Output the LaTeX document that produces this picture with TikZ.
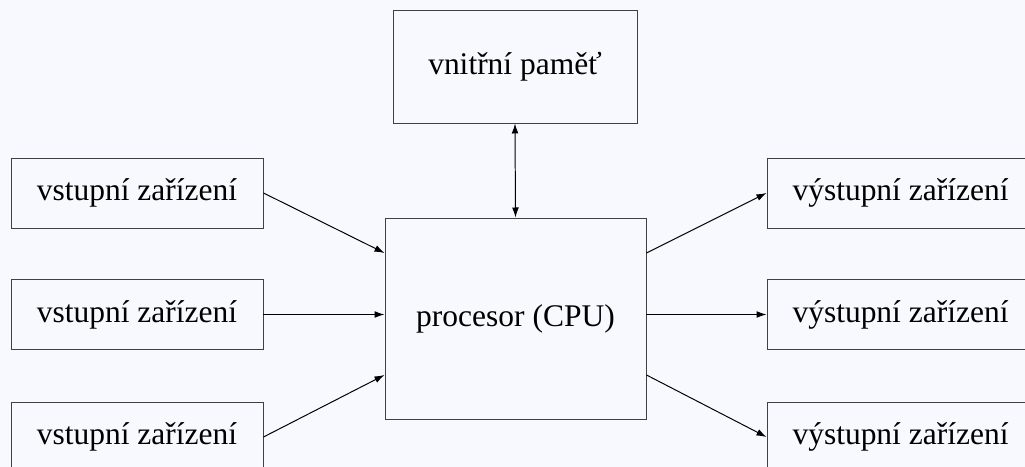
\documentclass[tikz,border=0pt]{standalone}
\usepackage{fontspec}
\setmainfont{Liberation Serif}
\usetikzlibrary{arrows.meta}
\definecolor{bgcol}{RGB}{248,248,255}

\begin{document}
\begin{tikzpicture}[line width=0.7pt, >={Latex[length=0.25cm,width=0.17cm]},
		every node/.style={font=\fontsize{22.4}{26}\selectfont},
		box/.style={draw=black!75, inner sep=0pt},
		inbox/.style={box, minimum width=6.3cm, minimum height=1.75cm},
		outbox/.style={box, minimum width=6.675cm, minimum height=1.75cm}]
			\fill[bgcol] (0,0) rectangle (25.625,-11.675);
			\useasboundingbox (0,0) rectangle (25.625,-11.675);
			\clip (0,0) rectangle (25.625,-11.675);
			\node[box, minimum width=6.1cm, minimum height=2.825cm] (mem) at (12.875,-1.6625) {vnitřní paměť};
			\node[box, minimum width=6.525cm, minimum height=5.025cm] (cpu) at (12.8875,-7.9625) {procesor (CPU)};
			\node[inbox] (in1) at (3.425,-4.825) {vstupní zařízení};
			\node[inbox] (in2) at (3.425,-7.8625) {vstupní zařízení};
			\node[inbox] (in3) at (3.425,-10.925) {vstupní zařízení};
			\node[outbox] (out1) at (22.5125,-4.825) {výstupní zařízení};
			\node[outbox] (out2) at (22.5125,-7.8625) {výstupní zařízení};
			\node[outbox] (out3) at (22.5125,-10.925) {výstupní zařízení};
			\coordinate (cin1) at (cpu.west |- 0,-6.325);
			\coordinate (cin3) at (cpu.west |- 0,-9.375);
			\coordinate (cout1) at (cpu.east |- 0,-6.325);
			\coordinate (cout3) at (cpu.east |- 0,-9.375);
			\draw[<->] (mem.south) -- (cpu.north);
			\draw[->] (in1.east) -- (cin1);
			\draw[->] (in2.east) -- (cpu.west |- in2.east);
			\draw[->] (in3.east) -- (cin3);
			\draw[->] (cout1) -- (out1.west);
			\draw[->] (cpu.east |- out2.west) -- (out2.west);
			\draw[->] (cout3) -- (out3.west);
		\end{tikzpicture}
\end{document}
